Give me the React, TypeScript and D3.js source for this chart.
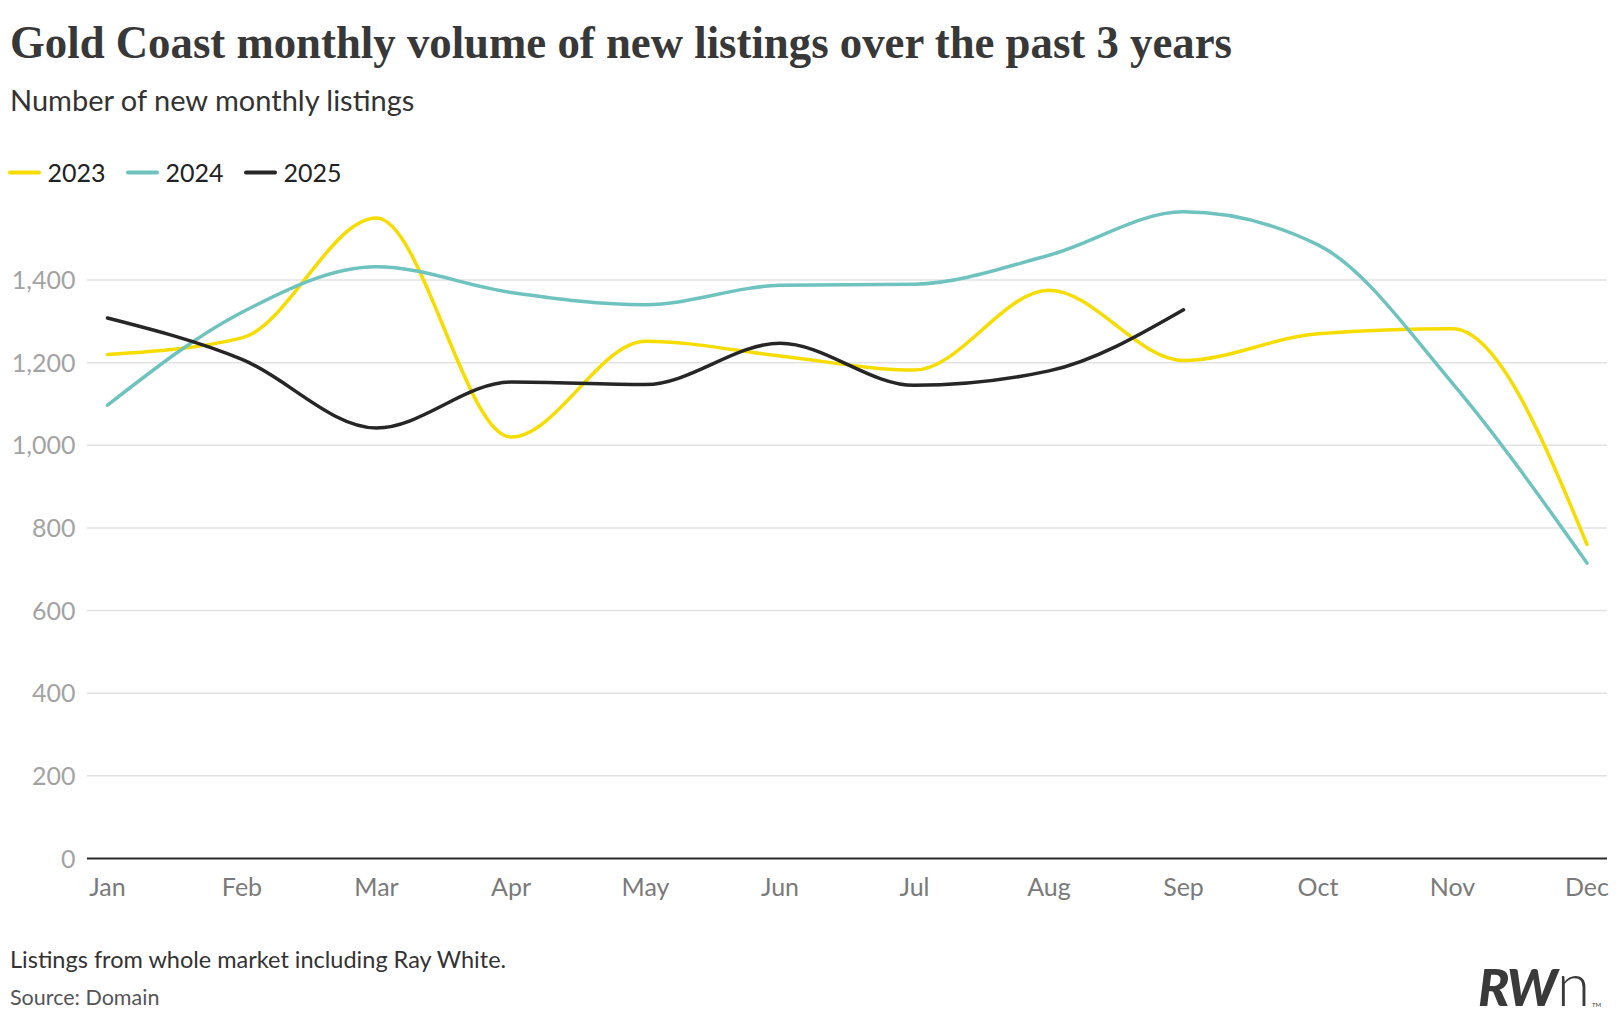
import React, { useMemo } from "react";
import * as d3 from "d3";

const months = ["Jan", "Feb", "Mar", "Apr", "May", "Jun", "Jul", "Aug", "Sep", "Oct", "Nov", "Dec"];
const v2023 = [1220, 1260, 1550, 1020, 1252, 1216, 1182, 1375, 1205, 1270, 1282, 760];
const v2024 = [1097, 1322, 1432, 1370, 1340, 1387, 1390, 1460, 1565, 1485, 1150, 715];
const v2025 = [1308, 1208, 1042, 1153, 1147, 1247, 1145, 1180, 1328];
const yTicks = [0, 200, 400, 600, 800, 1000, 1200, 1400];

const seriesNames = ["2023", "2024", "2025"];
const seriesColors = ["#f7dc00", "#6fc3bf", "#262626"];
const seriesValues = [v2023, v2024, v2025];

const W = 1620;
const H = 1020;
const FONT = "Lato, 'Noto Sans', sans-serif";

export default function App() {
  const x = useMemo(() => d3.scalePoint<string>().domain(months).range([107.5, 1587]), []);
  const y = useMemo(() => d3.scaleLinear().domain([0, 1400]).range([858.5, 280]), []);
  const line = d3
    .line<number>()
    .x((_, i) => x(months[i]) as number)
    .y((d) => y(d))
    .curve(d3.curveMonotoneX);

  const fmt = d3.format(",");
  const legendX = [10, 128, 246];

  return (
    <svg
      width={W}
      height={H}
      viewBox={`0 0 ${W} ${H}`}
      style={{ position: "absolute", left: 0, top: 0, background: "#fff" }}
    >
      <rect x={0} y={0} width={W} height={H} fill="#fff" />
      <text
        x={10}
        y={58}
        fontFamily="'Liberation Serif', 'DejaVu Serif', serif"
        fontWeight={700}
        fontSize={46}
        fill="#383838"
        textLength={1222}
        lengthAdjust="spacingAndGlyphs"
      >
        Gold Coast monthly volume of new listings over the past 3 years
      </text>
      <text x={10} y={110.5} fontFamily={FONT} fontSize={29} fill="#333" fontWeight={400}>
        Number of new monthly listings
      </text>

      {seriesNames.map((n, i) => (
        <g key={n} transform={`translate(${legendX[i]},172.5)`}>
          <line x1={0} x2={29} y1={0} y2={0} stroke={seriesColors[i]} strokeWidth={4} strokeLinecap="round" />
          <text x={37.5} y={9} fontFamily={FONT} fontSize={25} fill="#222">
            {n}
          </text>
        </g>
      ))}

      {yTicks.map((t) => (
        <g key={t}>
          {t !== 0 && <line x1={87} x2={1607} y1={y(t)} y2={y(t)} stroke="#e2e2e2" strokeWidth={1.5} />}
          <text
            x={75.5}
            y={y(t) + 9}
            textAnchor="end"
            fontFamily={FONT}
            fontSize={25}
            fill="#a3a3a3"
          >
            {fmt(t)}
          </text>
        </g>
      ))}

      {seriesValues.map((vals, i) => (
        <path
          key={seriesNames[i]}
          d={line(vals) || ""}
          fill="none"
          stroke={seriesColors[i]}
          strokeWidth={3.5}
          strokeLinecap="round"
          strokeLinejoin="round"
        />
      ))}

      <line x1={87} x2={1607} y1={y(0)} y2={y(0)} stroke="#2a2a2a" strokeWidth={2} />

      {months.map((m) => (
        <text
          key={m}
          x={x(m) as number}
          y={896}
          textAnchor="middle"
          fontFamily={FONT}
          fontSize={25}
          fill="#7a7a7a"
        >
          {m}
        </text>
      ))}

      <text x={10} y={968} fontFamily={FONT} fontSize={23.5} fill="#333">
        Listings from whole market including Ray White.
      </text>
      <text x={10} y={1005} fontFamily={FONT} fontSize={21.5} fill="#555">
        Source: Domain
      </text>

      <g>
        <text
          x={1478}
          y={1006}
          fontFamily={FONT}
          fontSize={52}
          fontWeight={900}
          fontStyle="italic"
          fill="#3a3a3a"
          letterSpacing={-2}
        >
          RW
        </text>
        <text x={1557} y={1006} fontFamily={FONT} fontSize={60} fontWeight={300} fill="#3a3a3a">
          n
        </text>
        <text x={1592} y={1007} fontFamily={FONT} fontSize={6} fill="#3a3a3a">
          TM
        </text>
      </g>
    </svg>
  );
}
